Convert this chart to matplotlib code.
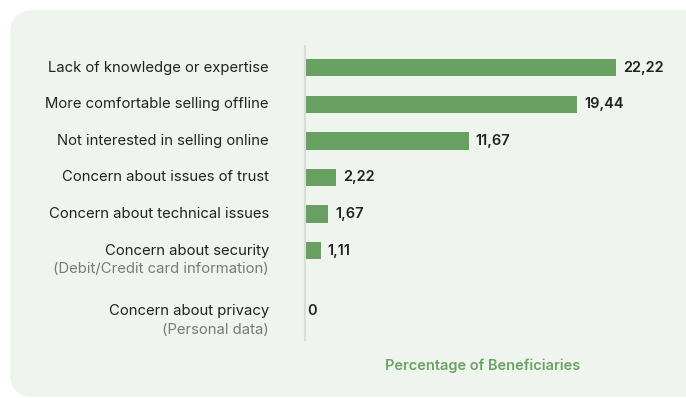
import matplotlib
matplotlib.use('Agg')
import matplotlib.pyplot as plt
from matplotlib.patches import FancyBboxPatch
import numpy as np

plt.rcParams['font.family'] = ['Inter', 'DejaVu Sans']

CATEGORIES = [
    'Lack of knowledge or expertise',
    'More comfortable selling offline',
    'Not interested in selling online',
    'Concern about issues of trust',
    'Concern about technical issues',
    'Concern about security',
    'Concern about privacy',
]
SUBTITLES = ['', '', '', '', '', '(Debit/Credit card information)', '(Personal data)']
VALUES = [22.22, 19.44, 11.67, 2.22, 1.67, 1.11, 0]
XLABEL = 'Percentage of Beneficiaries'

BAR_COLOR = '#68a062'
PANEL_COLOR = '#eff4ee'
TEXT_COLOR = '#222222'
SUB_COLOR = '#7a7a7a'

fig = plt.figure(figsize=(6.86, 3.98), dpi=100)
fig.patch.set_facecolor('white')

# rounded background panel, running off the right edge
panel = FancyBboxPatch((10 / 686, 1 / 398), 1.1, 1 - 11 / 398,
                       boxstyle='round,pad=0,rounding_size=0.035',
                       transform=fig.transFigure, facecolor=PANEL_COLOR,
                       edgecolor='none', zorder=-5, mutation_aspect=686 / 398)
fig.patches.append(panel)

ax = fig.add_axes([305 / 686, 1 - 340 / 398, 356 / 686, 294 / 398])
ax.set_facecolor('none')

# rows with a second label line get some extra room below them
ypos = [0.0]
for sub in SUBTITLES[:-1]:
    ypos.append(ypos[-1] + 1 + (0.65 if sub else 0))
ypos = np.array(ypos)

ax.barh(ypos, VALUES, height=0.47, color=BAR_COLOR, zorder=2)

for y, v in zip(ypos, VALUES):
    txt = '0' if v == 0 else f'{v:.2f}'.replace('.', ',')
    ax.annotate(txt, xy=(v, y), xytext=(5 if v else 1.5, 0), textcoords='offset points',
                ha='left', va='center', fontsize=10.5, fontweight='semibold',
                color=TEXT_COLOR)

for y, cat, sub in zip(ypos, CATEGORIES, SUBTITLES):
    ax.annotate(cat, xy=(0, y), xytext=(-26, 0), textcoords='offset points',
                ha='right', va='center', fontsize=10.7, color=TEXT_COLOR)
    if sub:
        ax.annotate(sub, xy=(0, y), xytext=(-26, -13.5), textcoords='offset points',
                    ha='right', va='center', fontsize=10.7, color=SUB_COLOR)

ax.set_xlim(0, 25.4)
ax.set_ylim(7.45, -0.6)
for side in ['top', 'right', 'bottom']:
    ax.spines[side].set_visible(False)
ax.spines['left'].set_color('#d9dcd8')
ax.spines['left'].set_linewidth(1.5)
ax.set_xticks([])
ax.set_yticks([])

ax.set_xlabel(XLABEL, fontsize=10.5, fontweight='semibold', color='#6aa463', labelpad=13)

fig.savefig('out.png', dpi=100, facecolor=fig.get_facecolor())
